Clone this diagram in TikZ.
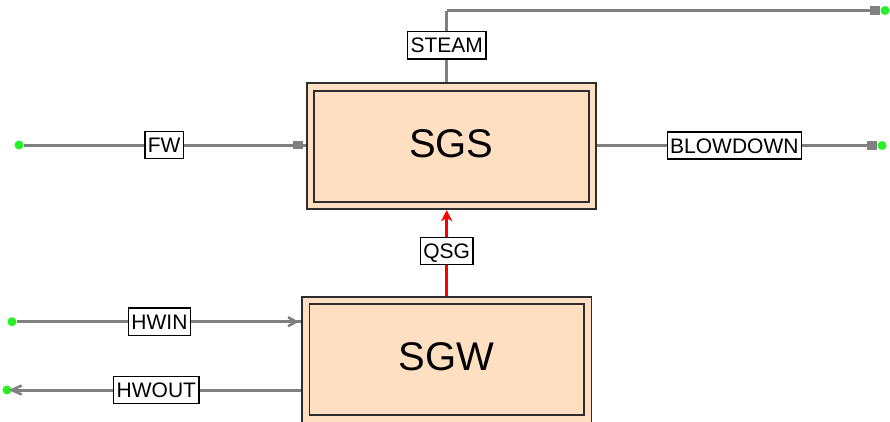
\documentclass[tikz,border=0pt]{standalone}
\usepackage{fontspec}
\setmainfont{Liberation Sans}
\usetikzlibrary{arrows.meta,decorations.markings}
\definecolor{peach}{RGB}{255,223,194}
\definecolor{linegray}{RGB}{128,128,128}
\definecolor{dotgreen}{RGB}{40,240,40}
\definecolor{boxedge}{RGB}{45,45,45}
\tikzset{
  unitbox/.style={draw=boxedge, line width=1.8pt, fill=peach, minimum width=289.5pt,
    minimum height=126pt, inner sep=0pt, font=\fontsize{40}{40}\selectfont, text depth=6pt},
  innerbox/.style={draw=boxedge, line width=1.8pt},
  stream/.style={draw=linegray, line width=3pt},
  heat/.style={draw=red, line width=3pt},
  lbl/.style={draw=black, line width=1.4pt, fill=white, font=\fontsize{21}{21}\selectfont,
    inner xsep=3pt, inner ysep=6pt, text height=15.2pt, text depth=0pt},
  enddot/.style={circle, fill=dotgreen, inner sep=0pt, minimum size=9pt},
  sqdot/.style={postaction={decorate, decoration={markings,
    mark=at position 1 with {\fill[linegray] (-10pt,-4.5pt) rectangle (0pt,4.5pt);}}}},
  sqbox/.style={postaction={decorate, decoration={markings,
    mark=at position 1 with {\fill[linegray] (-13pt,-3.8pt) rectangle (-3pt,3.8pt);}}}},
  chevbox/.style={postaction={decorate, decoration={markings,
    mark=at position 1 with {\draw[linegray, line width=2.6pt] (-13pt,-4.5pt) -- (-5pt,0pt) -- (-13pt,4.5pt);}}}},
  chevdot/.style={postaction={decorate, decoration={markings,
    mark=at position 1 with {\draw[linegray, line width=2.6pt] (-10pt,-4.5pt) -- (0pt,0pt) -- (-10pt,4.5pt);}}}},
}
\begin{document}
\begin{tikzpicture}[x=1pt, y=-1pt]
\useasboundingbox (0,0) rectangle (890,421);
\clip (0,0) rectangle (890,421);
% unit boxes
\node[unitbox] (SGS) at (451.4,146.2) {SGS};
\draw[innerbox] ([shift={(8.4,8.4)}]SGS.north west) rectangle ([shift={(-8.4,-8.4)}]SGS.south east);
\node[unitbox] (SGW) at (446.7,359.6) {SGW};
\draw[innerbox] ([shift={(8.4,8.4)}]SGW.north west) rectangle ([shift={(-8.4,-8.4)}]SGW.south east);
% end points
\node[enddot] (fwsrc) at (19,145) {};
\node[enddot] (steamend) at (885,10.5) {};
\coordinate (steambend) at (446.7,10.5);
\node[enddot] (bdend) at (882,145.5) {};
\node[enddot] (hwinsrc) at (12,321.7) {};
\node[enddot] (hwoutend) at (7,390) {};
% streams
\draw[stream, sqbox] (fwsrc) -- node[lbl, pos=0.498] {FW} (fwsrc -| SGS.west);
\draw[stream] (steambend |- SGS.north) -- node[lbl, pos=0.516] {STEAM} (steambend);
\draw[stream, sqdot] (steambend) -- (steamend);
\draw[stream, sqdot] (bdend -| SGS.east) -- node[lbl, pos=0.49] {BLOWDOWN} (bdend);
\draw[stream, chevbox] (hwinsrc) -- node[lbl, pos=0.502] {HWIN} (hwinsrc -| SGW.west);
\draw[stream, chevdot] (hwoutend -| SGW.west) -- node[lbl, pos=0.5] {HWOUT} (hwoutend);
% heat stream
\draw[heat, -{Stealth[length=11pt, width=11pt, inset=3pt]}] (SGW.north) -- node[lbl, pos=0.52] {QSG} (SGW.north |- SGS.south);
\end{tikzpicture}
\end{document}
